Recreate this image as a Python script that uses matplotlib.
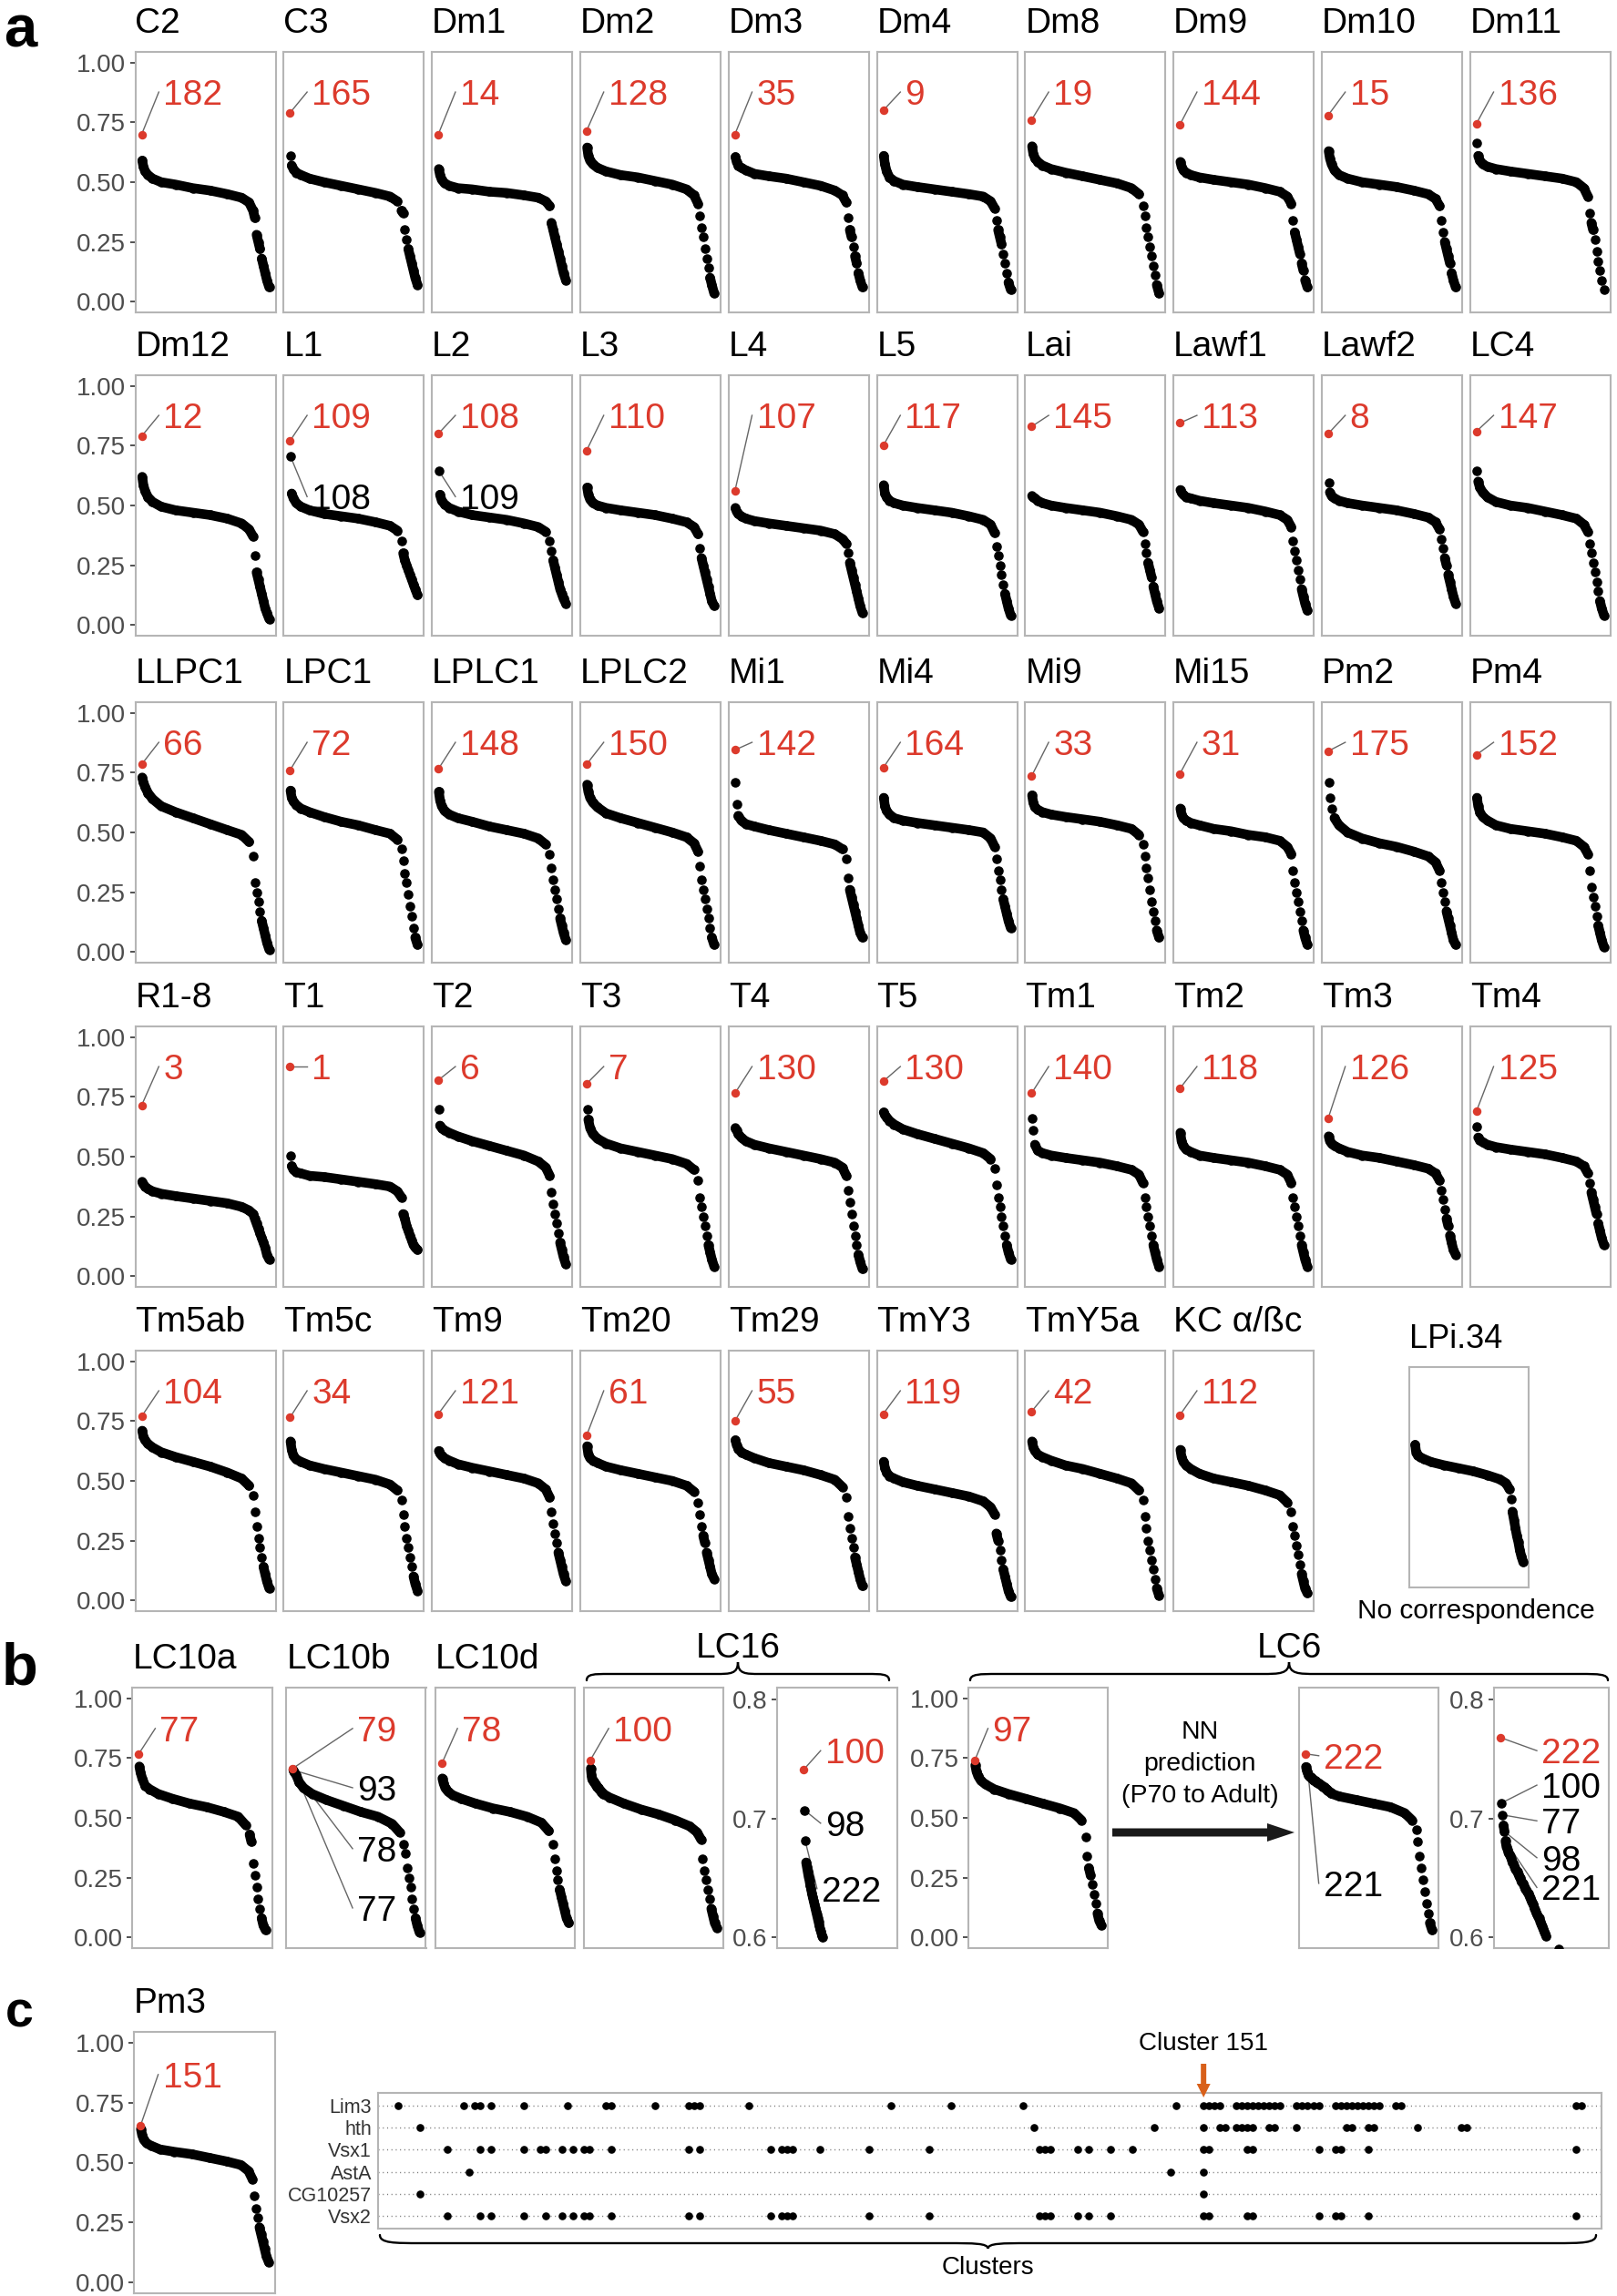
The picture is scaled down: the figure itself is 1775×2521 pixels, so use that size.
import numpy as np
import matplotlib
matplotlib.use("Agg")
import matplotlib.pyplot as plt
from matplotlib.path import Path
from matplotlib.patches import PathPatch, FancyArrow
import matplotlib.transforms as mtransforms

plt.rcParams['font.family'] = ['Liberation Sans', 'DejaVu Sans']

# ============================ DATA ============================
N_CLUSTERS = 223
# ranks at which the sorted similarity values were read (red point = rank 1)
RANKS = [2, 4, 7, 12, 20, 35, 60, 90, 120, 150, 175, 188, 195,
         198, 201, 204, 207, 210, 213, 216, 219, 223]
N_TAIL = 9

# ---- panel a, row 1 ----
ROW1_NAMES = ["C2", "C3", "Dm1", "Dm2", "Dm3", "Dm4", "Dm8", "Dm9", "Dm10", "Dm11"]
ROW1_IDS = ["182", "165", "14", "128", "35", "9", "19", "144", "15", "136"]
ROW1_RED = [0.70, 0.79, 0.70, 0.715, 0.70, 0.80, 0.76, 0.74, 0.78, 0.745]
ROW1_CURVES = [
    [0.59, 0.565, 0.545, 0.53, 0.515, 0.50, 0.49, 0.475, 0.465, 0.45, 0.435, 0.415, 0.38, 0.35, 0.28, 0.25, 0.22, 0.18, 0.15, 0.12, 0.09, 0.06],
    [0.61, 0.57, 0.555, 0.54, 0.53, 0.515, 0.50, 0.485, 0.47, 0.455, 0.44, 0.42, 0.38, 0.37, 0.30, 0.26, 0.22, 0.19, 0.16, 0.13, 0.10, 0.07],
    [0.555, 0.53, 0.51, 0.495, 0.485, 0.475, 0.47, 0.46, 0.455, 0.445, 0.435, 0.42, 0.40, 0.33, 0.30, 0.27, 0.24, 0.21, 0.18, 0.15, 0.12, 0.09],
    [0.645, 0.61, 0.59, 0.575, 0.56, 0.545, 0.53, 0.52, 0.505, 0.49, 0.47, 0.445, 0.41, 0.36, 0.31, 0.27, 0.22, 0.18, 0.14, 0.10, 0.07, 0.035],
    [0.605, 0.585, 0.57, 0.56, 0.55, 0.535, 0.525, 0.515, 0.50, 0.485, 0.465, 0.445, 0.415, 0.35, 0.30, 0.27, 0.23, 0.19, 0.16, 0.12, 0.09, 0.06],
    [0.61, 0.575, 0.545, 0.52, 0.505, 0.49, 0.48, 0.47, 0.46, 0.45, 0.44, 0.42, 0.39, 0.34, 0.30, 0.27, 0.24, 0.20, 0.16, 0.12, 0.08, 0.05],
    [0.65, 0.62, 0.60, 0.585, 0.57, 0.555, 0.54, 0.525, 0.51, 0.495, 0.475, 0.45, 0.40, 0.36, 0.31, 0.27, 0.23, 0.19, 0.15, 0.11, 0.07, 0.035],
    [0.585, 0.565, 0.55, 0.54, 0.53, 0.52, 0.51, 0.50, 0.49, 0.475, 0.46, 0.44, 0.41, 0.34, 0.29, 0.26, 0.23, 0.20, 0.16, 0.13, 0.09, 0.06],
    [0.63, 0.60, 0.575, 0.55, 0.53, 0.515, 0.50, 0.49, 0.48, 0.465, 0.45, 0.43, 0.40, 0.34, 0.29, 0.25, 0.22, 0.19, 0.16, 0.12, 0.09, 0.06],
    [0.665, 0.61, 0.59, 0.575, 0.565, 0.555, 0.545, 0.535, 0.525, 0.515, 0.50, 0.475, 0.44, 0.37, 0.33, 0.30, 0.26, 0.21, 0.17, 0.13, 0.09, 0.05],
]

# ---- panel a, row 2 ----
ROW2_NAMES = ["Dm12", "L1", "L2", "L3", "L4", "L5", "Lai", "Lawf1", "Lawf2", "LC4"]
ROW2_IDS = ["12", "109", "108", "110", "107", "117", "145", "113", "8", "147"]
ROW2_RED = [0.79, 0.77, 0.80, 0.73, 0.56, 0.75, 0.83, 0.845, 0.80, 0.81]
ROW2_CURVES = [
    [0.62, 0.585, 0.56, 0.535, 0.515, 0.495, 0.48, 0.47, 0.46, 0.445, 0.425, 0.40, 0.37, 0.29, 0.22, 0.19, 0.16, 0.13, 0.10, 0.07, 0.05, 0.025],
    [0.705, 0.55, 0.53, 0.51, 0.495, 0.48, 0.465, 0.455, 0.445, 0.43, 0.415, 0.395, 0.35, 0.30, 0.27, 0.25, 0.23, 0.21, 0.19, 0.17, 0.15, 0.125],
    [0.645, 0.545, 0.52, 0.505, 0.49, 0.475, 0.46, 0.45, 0.44, 0.425, 0.41, 0.39, 0.35, 0.31, 0.27, 0.24, 0.21, 0.18, 0.15, 0.13, 0.11, 0.09],
    [0.575, 0.545, 0.525, 0.51, 0.50, 0.49, 0.48, 0.47, 0.46, 0.445, 0.43, 0.41, 0.38, 0.32, 0.28, 0.25, 0.22, 0.19, 0.16, 0.13, 0.10, 0.08],
    [0.49, 0.475, 0.465, 0.455, 0.445, 0.435, 0.425, 0.415, 0.405, 0.395, 0.38, 0.36, 0.34, 0.30, 0.26, 0.23, 0.20, 0.17, 0.14, 0.11, 0.08, 0.05],
    [0.585, 0.55, 0.535, 0.52, 0.51, 0.50, 0.49, 0.48, 0.47, 0.455, 0.44, 0.42, 0.385, 0.33, 0.29, 0.25, 0.21, 0.17, 0.13, 0.10, 0.07, 0.04],
    [0.54, 0.535, 0.53, 0.52, 0.51, 0.50, 0.49, 0.48, 0.47, 0.455, 0.44, 0.42, 0.39, 0.34, 0.30, 0.26, 0.23, 0.20, 0.16, 0.13, 0.10, 0.07],
    [0.565, 0.555, 0.545, 0.535, 0.53, 0.52, 0.51, 0.50, 0.49, 0.475, 0.46, 0.44, 0.41, 0.35, 0.31, 0.27, 0.23, 0.19, 0.15, 0.12, 0.09, 0.06],
    [0.595, 0.555, 0.54, 0.53, 0.52, 0.51, 0.50, 0.49, 0.48, 0.465, 0.45, 0.43, 0.40, 0.36, 0.32, 0.28, 0.25, 0.21, 0.18, 0.15, 0.12, 0.09],
    [0.645, 0.60, 0.575, 0.555, 0.535, 0.515, 0.50, 0.49, 0.475, 0.46, 0.445, 0.42, 0.39, 0.34, 0.30, 0.26, 0.22, 0.18, 0.14, 0.10, 0.07, 0.04],
]
# extra black labelled points (panel index in row 2, label, index in curve)
ROW2_EXTRA = [(1, "108", 0), (2, "109", 0)]

# ---- panel a, row 3 ----
ROW3_NAMES = ["LLPC1", "LPC1", "LPLC1", "LPLC2", "Mi1", "Mi4", "Mi9", "Mi15", "Pm2", "Pm4"]
ROW3_IDS = ["66", "72", "148", "150", "142", "164", "33", "31", "175", "152"]
ROW3_RED = [0.785, 0.76, 0.765, 0.785, 0.845, 0.77, 0.735, 0.745, 0.84, 0.825]
ROW3_CURVES = [
    [0.73, 0.71, 0.69, 0.665, 0.64, 0.61, 0.585, 0.56, 0.535, 0.51, 0.49, 0.46, 0.40, 0.29, 0.25, 0.21, 0.17, 0.13, 0.10, 0.07, 0.04, 0.01],
    [0.675, 0.645, 0.63, 0.615, 0.60, 0.585, 0.565, 0.545, 0.53, 0.51, 0.495, 0.47, 0.43, 0.38, 0.33, 0.29, 0.24, 0.19, 0.15, 0.10, 0.06, 0.03],
    [0.67, 0.635, 0.61, 0.59, 0.575, 0.56, 0.545, 0.525, 0.51, 0.495, 0.475, 0.45, 0.41, 0.35, 0.30, 0.26, 0.22, 0.18, 0.14, 0.11, 0.08, 0.05],
    [0.70, 0.67, 0.645, 0.625, 0.605, 0.58, 0.56, 0.54, 0.52, 0.50, 0.48, 0.455, 0.42, 0.36, 0.30, 0.26, 0.22, 0.18, 0.14, 0.10, 0.06, 0.03],
    [0.71, 0.62, 0.57, 0.55, 0.535, 0.525, 0.51, 0.495, 0.48, 0.465, 0.45, 0.43, 0.39, 0.31, 0.26, 0.23, 0.20, 0.17, 0.14, 0.11, 0.08, 0.06],
    [0.645, 0.61, 0.59, 0.575, 0.56, 0.55, 0.54, 0.53, 0.52, 0.51, 0.50, 0.475, 0.44, 0.39, 0.34, 0.30, 0.26, 0.22, 0.19, 0.16, 0.13, 0.10],
    [0.655, 0.625, 0.605, 0.595, 0.585, 0.575, 0.565, 0.555, 0.545, 0.53, 0.515, 0.49, 0.45, 0.40, 0.35, 0.31, 0.26, 0.21, 0.17, 0.13, 0.09, 0.06],
    [0.60, 0.575, 0.56, 0.55, 0.54, 0.53, 0.515, 0.505, 0.49, 0.48, 0.465, 0.44, 0.41, 0.34, 0.29, 0.25, 0.21, 0.17, 0.13, 0.09, 0.06, 0.03],
    [0.71, 0.645, 0.60, 0.56, 0.53, 0.50, 0.475, 0.455, 0.44, 0.42, 0.40, 0.375, 0.34, 0.29, 0.25, 0.21, 0.17, 0.14, 0.11, 0.08, 0.05, 0.03],
    [0.645, 0.61, 0.585, 0.565, 0.55, 0.53, 0.515, 0.505, 0.495, 0.48, 0.465, 0.44, 0.41, 0.34, 0.27, 0.23, 0.19, 0.15, 0.11, 0.08, 0.05, 0.02],
]

# ---- panel a, row 4 ----
ROW4_NAMES = ["R1-8", "T1", "T2", "T3", "T4", "T5", "Tm1", "Tm2", "Tm3", "Tm4"]
ROW4_IDS = ["3", "1", "6", "7", "130", "130", "140", "118", "126", "125"]
ROW4_RED = [0.715, 0.877, 0.82, 0.805, 0.765, 0.815, 0.765, 0.785, 0.66, 0.69]
ROW4_CURVES = [
    [0.395, 0.385, 0.375, 0.365, 0.355, 0.345, 0.335, 0.325, 0.315, 0.305, 0.29, 0.275, 0.26, 0.24, 0.22, 0.20, 0.18, 0.16, 0.14, 0.12, 0.09, 0.07],
    [0.505, 0.46, 0.445, 0.435, 0.43, 0.42, 0.415, 0.405, 0.395, 0.385, 0.375, 0.355, 0.33, 0.26, 0.24, 0.21, 0.19, 0.17, 0.15, 0.13, 0.12, 0.11],
    [0.70, 0.63, 0.62, 0.61, 0.60, 0.585, 0.565, 0.545, 0.525, 0.505, 0.48, 0.455, 0.42, 0.35, 0.30, 0.26, 0.22, 0.18, 0.14, 0.11, 0.08, 0.05],
    [0.70, 0.655, 0.62, 0.595, 0.575, 0.555, 0.535, 0.52, 0.505, 0.49, 0.47, 0.445, 0.40, 0.33, 0.29, 0.25, 0.21, 0.17, 0.13, 0.10, 0.07, 0.04],
    [0.62, 0.61, 0.595, 0.58, 0.565, 0.55, 0.535, 0.52, 0.505, 0.49, 0.475, 0.455, 0.42, 0.36, 0.31, 0.26, 0.21, 0.17, 0.13, 0.09, 0.06, 0.03],
    [0.685, 0.675, 0.665, 0.65, 0.635, 0.615, 0.595, 0.575, 0.555, 0.535, 0.515, 0.49, 0.45, 0.38, 0.33, 0.29, 0.25, 0.21, 0.17, 0.13, 0.10, 0.07],
    [0.66, 0.61, 0.55, 0.525, 0.515, 0.505, 0.495, 0.485, 0.475, 0.46, 0.445, 0.425, 0.39, 0.33, 0.29, 0.25, 0.21, 0.17, 0.13, 0.10, 0.07, 0.04],
    [0.60, 0.565, 0.545, 0.53, 0.52, 0.505, 0.495, 0.485, 0.475, 0.46, 0.445, 0.425, 0.39, 0.33, 0.29, 0.25, 0.21, 0.17, 0.13, 0.10, 0.07, 0.04],
    [0.585, 0.565, 0.555, 0.545, 0.535, 0.52, 0.505, 0.495, 0.48, 0.465, 0.45, 0.43, 0.40, 0.36, 0.32, 0.28, 0.24, 0.21, 0.17, 0.14, 0.11, 0.09],
    [0.625, 0.58, 0.57, 0.56, 0.55, 0.54, 0.53, 0.52, 0.51, 0.495, 0.48, 0.46, 0.43, 0.39, 0.35, 0.32, 0.29, 0.26, 0.22, 0.19, 0.16, 0.13],
]

# ---- panel a, row 5 ----
ROW5_NAMES = ["Tm5ab", "Tm5c", "Tm9", "Tm20", "Tm29", "TmY3", "TmY5a", "KC α/ßc"]
ROW5_IDS = ["104", "34", "121", "61", "55", "119", "42", "112"]
ROW5_RED = [0.77, 0.765, 0.78, 0.69, 0.75, 0.78, 0.79, 0.775]
ROW5_CURVES = [
    [0.71, 0.685, 0.67, 0.655, 0.64, 0.62, 0.60, 0.58, 0.56, 0.535, 0.51, 0.48, 0.44, 0.37, 0.31, 0.26, 0.22, 0.18, 0.14, 0.11, 0.08, 0.05],
    [0.665, 0.63, 0.605, 0.59, 0.58, 0.565, 0.55, 0.535, 0.52, 0.505, 0.485, 0.46, 0.42, 0.36, 0.31, 0.26, 0.22, 0.18, 0.14, 0.10, 0.07, 0.04],
    [0.625, 0.615, 0.605, 0.595, 0.585, 0.57, 0.555, 0.54, 0.525, 0.51, 0.49, 0.465, 0.43, 0.37, 0.32, 0.28, 0.24, 0.20, 0.17, 0.14, 0.11, 0.08],
    [0.645, 0.61, 0.595, 0.585, 0.575, 0.56, 0.545, 0.53, 0.515, 0.50, 0.48, 0.455, 0.41, 0.36, 0.31, 0.27, 0.24, 0.20, 0.17, 0.14, 0.11, 0.09],
    [0.67, 0.65, 0.635, 0.62, 0.61, 0.595, 0.575, 0.56, 0.545, 0.525, 0.505, 0.475, 0.43, 0.35, 0.30, 0.26, 0.22, 0.18, 0.15, 0.12, 0.09, 0.06],
    [0.58, 0.555, 0.535, 0.52, 0.51, 0.495, 0.48, 0.465, 0.45, 0.435, 0.415, 0.39, 0.36, 0.28, 0.25, 0.21, 0.17, 0.13, 0.10, 0.07, 0.04, 0.015],
    [0.665, 0.64, 0.625, 0.61, 0.60, 0.585, 0.565, 0.55, 0.53, 0.51, 0.49, 0.46, 0.42, 0.35, 0.30, 0.25, 0.21, 0.17, 0.13, 0.09, 0.05, 0.02],
    [0.63, 0.60, 0.58, 0.565, 0.55, 0.53, 0.51, 0.495, 0.48, 0.46, 0.44, 0.41, 0.37, 0.31, 0.27, 0.23, 0.19, 0.15, 0.11, 0.08, 0.05, 0.03],
]
LPI_NAME = "LPi.34"
LPI_CURVE = [0.66, 0.62, 0.61, 0.60, 0.59, 0.575, 0.56, 0.545, 0.53, 0.51, 0.49, 0.47, 0.44, 0.39, 0.33, 0.29, 0.25, 0.21, 0.18, 0.14, 0.11, 0.08]

# ---- panel b ----
LC10A_RED = 0.768
LC10A_CURVE = [0.715, 0.69, 0.665, 0.635, 0.62, 0.60, 0.58, 0.56, 0.545, 0.525, 0.505, 0.47, 0.43, 0.40, 0.31, 0.26, 0.21, 0.16, 0.12, 0.08, 0.05, 0.03]
LC10B_RED = 0.707
LC10B_CURVE = [0.70, 0.69, 0.68, 0.65, 0.625, 0.60, 0.575, 0.55, 0.525, 0.505, 0.475, 0.44, 0.39, 0.35, 0.29, 0.25, 0.21, 0.16, 0.12, 0.08, 0.05, 0.02]
LC10D_RED = 0.727
LC10D_CURVE = [0.665, 0.645, 0.625, 0.61, 0.595, 0.58, 0.56, 0.54, 0.525, 0.505, 0.48, 0.445, 0.39, 0.33, 0.28, 0.24, 0.20, 0.17, 0.14, 0.11, 0.08, 0.06]

LC16_RED = 0.741
LC16_HEAD = [0.707, 0.681, 0.663, 0.659, 0.655, 0.651, 0.648, 0.644, 0.641, 0.637, 0.634, 0.631,
             0.628, 0.625, 0.622, 0.619, 0.616, 0.613, 0.610, 0.607, 0.605, 0.602, 0.600]
LC16_REST = [0.585, 0.56, 0.535, 0.515, 0.49, 0.465, 0.44, 0.41,
             0.33, 0.28, 0.24, 0.20, 0.16, 0.12, 0.09, 0.06, 0.04]
LC16_RANKS = list(range(2, 2 + len(LC16_HEAD))) + [r for r in RANKS if r > 1 + len(LC16_HEAD)]
LC16_CURVE = LC16_HEAD + LC16_REST

LC6_P70_RED = 0.74
LC6_P70_CURVE = [0.72, 0.695, 0.675, 0.655, 0.64, 0.62, 0.60, 0.58, 0.56, 0.54, 0.52, 0.49, 0.42, 0.34, 0.29, 0.26, 0.22, 0.18, 0.14, 0.10, 0.07, 0.05]

LC6_ADULT_RED = 0.768
LC6_ADULT_HEAD = [0.713, 0.703, 0.694, 0.689, 0.681,
                  0.676, 0.674, 0.671, 0.670, 0.668, 0.666, 0.663, 0.662, 0.660, 0.658, 0.656, 0.655,
                  0.653, 0.651, 0.650, 0.647, 0.646, 0.645, 0.643, 0.641, 0.640, 0.638, 0.637, 0.635,
                  0.633, 0.631, 0.629, 0.628, 0.625, 0.623, 0.621, 0.619, 0.617, 0.616, 0.613, 0.611,
                  0.609, 0.607, 0.605, 0.603, 0.601]
LC6_ADULT_REST = [0.59, 0.575, 0.56, 0.545, 0.52, 0.49, 0.45,
                  0.40, 0.34, 0.29, 0.24, 0.19, 0.14, 0.10, 0.06, 0.03]
LC6_ADULT_RANKS = list(range(2, 2 + len(LC6_ADULT_HEAD))) + [r for r in RANKS if r > 1 + len(LC6_ADULT_HEAD)]
LC6_ADULT_CURVE = LC6_ADULT_HEAD + LC6_ADULT_REST

# ---- panel c ----
PM3_RED = 0.652
PM3_CURVE = [0.64, 0.615, 0.595, 0.58, 0.57, 0.555, 0.545, 0.535, 0.52, 0.505, 0.49, 0.465, 0.43, 0.36, 0.31, 0.27, 0.23, 0.20, 0.17, 0.14, 0.11, 0.085]

GENES = ["Lim3", "hth", "Vsx1", "AstA", "CG10257", "Vsx2"]
LIM3_CLUSTERS = [4, 16, 18, 19, 21, 27, 35, 42, 43, 51, 57, 58, 59, 68, 94, 105, 118, 146,
                 151, 152, 153, 154, 157, 158, 159, 160, 161, 162, 163, 164, 165,
                 168, 169, 170, 171, 172, 175, 176, 177, 178, 179, 180, 181, 182, 183,
                 186, 187, 219, 220]
HTH_CLUSTERS = [8, 120, 142, 151, 154, 155, 157, 158, 159, 160, 163, 164, 168, 177, 178,
                181, 182, 190, 198, 199]
VSX1_CLUSTERS = [13, 19, 21, 27, 30, 31, 34, 36, 38, 39, 43, 57, 59, 72, 74, 75, 76, 81, 90,
                 101, 121, 122, 123, 128, 130, 134, 138, 151, 152, 159, 160, 172, 175, 176,
                 181, 219]
ASTA_CLUSTERS = [17, 145, 151]
CG10257_CLUSTERS = [8, 151]
VSX2_CLUSTERS = [13, 19, 21, 27, 31, 34, 36, 38, 39, 43, 57, 59, 72, 74, 75, 76, 90, 101,
                 121, 122, 123, 128, 130, 134, 151, 152, 159, 160, 172, 175, 176, 181, 219]
HIGHLIGHT_CLUSTER = 151

# ============================ STYLE / LAYOUT ============================
W, H = 1775, 2521
RED = '#DC3A2C'
FRAME = '#B5B5B5'
SEG = '#666666'
TICKCOL = '#4D4D4D'
TITLE_FS = 28
LABEL_FS = 28
TICK_FS = 20
MS = 7.6
LW_CURVE = 7.6
JOIN_PX = 9.5

XLIM_MAIN = (1 - 0.05 * (N_CLUSTERS - 1), N_CLUSTERS + 0.05 * (N_CLUSTERS - 1))
YLIM_MAIN = (-0.045, 1.045)

fig = plt.figure(figsize=(W / 100, H / 100), dpi=100)
ov = fig.add_axes([0, 0, 1, 1], zorder=20)
ov.set_xlim(0, W)
ov.set_ylim(H, 0)
ov.axis('off')


def add_px_axes(x0, y0, x1, y1):
    return fig.add_axes([x0 / W, 1 - y1 / H, (x1 - x0) / W, (y1 - y0) / H])


def style_frame(ax):
    for s in ax.spines.values():
        s.set_color(FRAME)
        s.set_linewidth(1.5)
    ax.set_xticks([])
    ax.patch.set_facecolor('white')


def draw_curve(ax, ranks, values):
    r = np.asarray(ranks, float)
    v = np.asarray(values, float)
    n = len(v)
    disp = ax.transData.transform(np.column_stack([r, v]))
    start = 0
    for i in range(1, n + 1):
        if i == n or abs(disp[i, 1] - disp[i - 1, 1]) > JOIN_PX:
            if i - start > 1:
                ax.plot(r[start:i], v[start:i], '-', color='black', lw=LW_CURVE,
                        solid_capstyle='round', solid_joinstyle='round', zorder=2)
            start = i
    ax.plot(r, v, 'o', color='black', ms=MS, mew=0, zorder=3)


def add_label(ax, text, px, py, x_frac, y_text, color, size=LABEL_FS):
    trans = mtransforms.blended_transform_factory(ax.transAxes, ax.transData)
    off = mtransforms.offset_copy(trans, fig=fig, x=0, y=-0.358 * size, units='points')
    ax.text(x_frac, y_text, text, transform=off, ha='left', va='baseline',
            color=color, fontsize=size, clip_on=False, zorder=6)
    dx = trans.transform((x_frac, y_text))
    ex, ey = ax.transData.inverted().transform((dx[0] - 5, dx[1]))
    ax.plot([px, ex], [py, ey], color=SEG, lw=1.0, clip_on=False, zorder=1)


def set_main_ticks(ax, show):
    if show:
        ax.set_yticks([0, 0.25, 0.5, 0.75, 1.0])
        ax.set_yticklabels(['0.00', '0.25', '0.50', '0.75', '1.00'])
        ax.tick_params(axis='y', length=4.5, width=1.2, color='#333333',
                       labelsize=TICK_FS, labelcolor=TICKCOL, pad=3)
    else:
        ax.set_yticks([])


def rank_panel(x0, y0, x1, y1, title, ranks, values, red=None, ylim=YLIM_MAIN,
               xlim=XLIM_MAIN, show_ticks=False, title_fs=TITLE_FS):
    ax = add_px_axes(x0, y0, x1, y1)
    ax.set_xlim(*xlim)
    ax.set_ylim(*ylim)
    style_frame(ax)
    set_main_ticks(ax, show_ticks)
    draw_curve(ax, ranks, values)
    if red is not None:
        ax.plot([1], [red], 'o', color=RED, ms=6.8, mew=0, zorder=5)
    if title:
        ov.text(x0, y0 - 21, title, ha='left', va='baseline', fontsize=title_fs, color='black')
    return ax


# ============================ PANEL a ============================
ROW_TOPS = [57, 412, 771, 1127, 1483]
BOX_H = 286
COL_X0 = 148.5
COL_PITCH = 162.8
BOX_W = 154
A_LABEL_X = 0.20
A_LABEL_Y = 0.877

rows = [
    (ROW1_NAMES, ROW1_IDS, ROW1_RED, ROW1_CURVES, []),
    (ROW2_NAMES, ROW2_IDS, ROW2_RED, ROW2_CURVES, ROW2_EXTRA),
    (ROW3_NAMES, ROW3_IDS, ROW3_RED, ROW3_CURVES, []),
    (ROW4_NAMES, ROW4_IDS, ROW4_RED, ROW4_CURVES, []),
    (ROW5_NAMES, ROW5_IDS, ROW5_RED, ROW5_CURVES, []),
]
for ri, (names, ids, reds, curves, extras) in enumerate(rows):
    top = ROW_TOPS[ri]
    for ci, name in enumerate(names):
        x0 = COL_X0 + ci * COL_PITCH
        ax = rank_panel(x0, top, x0 + BOX_W, top + BOX_H, name, RANKS, curves[ci],
                        red=reds[ci], show_ticks=(ci == 0))
        add_label(ax, ids[ci], 1, reds[ci], A_LABEL_X, A_LABEL_Y, RED)
        for (pi, lab, idx) in extras:
            if pi == ci:
                add_label(ax, lab, RANKS[idx], curves[ci][idx], A_LABEL_X, 0.537, 'black')

# LPi.34 (no correspondence)
ax = rank_panel(1547, 1501, 1678, 1743, LPI_NAME, RANKS, LPI_CURVE, red=None, title_fs=26)
ov.text(1620, 1777, 'No correspondence', ha='center', va='baseline', fontsize=21.5)

# ============================ PANEL b ============================
BT, BB = 1853, 2139
ax = rank_panel(145.4, BT, 298.5, BB, 'LC10a', RANKS, LC10A_CURVE, red=LC10A_RED, show_ticks=True)
add_label(ax, '77', 1, LC10A_RED, 0.196, 0.874, RED)

ax = rank_panel(314.4, BT, 467.5, BB, 'LC10b', RANKS, LC10B_CURVE, red=LC10B_RED)
add_label(ax, '79', 1, LC10B_RED, 0.507, 0.874, RED)
for lab, idx, yt in [('93', 0, 0.626), ('78', 1, 0.371), ('77', 2, 0.123)]:
    add_label(ax, lab, RANKS[idx], LC10B_CURVE[idx], 0.507, yt, 'black')

ax = rank_panel(478, BT, 631.4, BB, 'LC10d', RANKS, LC10D_CURVE, red=LC10D_RED)
add_label(ax, '78', 1, LC10D_RED, 0.19, 0.874, RED)

ax = rank_panel(641, BT, 794, BB, None, LC16_RANKS, LC16_CURVE, red=LC16_RED)
add_label(ax, '100', 1, LC16_RED, 0.21, 0.874, RED)

ZYLIM = (0.591, 0.810)


def zoom_ticks(ax):
    ax.set_yticks([0.6, 0.7, 0.8])
    ax.set_yticklabels(['0.6', '0.7', '0.8'])
    ax.tick_params(axis='y', length=4.5, width=1.2, color='#333333',
                   labelsize=TICK_FS, labelcolor=TICKCOL, pad=3)


ax = rank_panel(853, BT, 985, BB, None, LC16_RANKS, LC16_CURVE, red=LC16_RED,
                ylim=ZYLIM, xlim=(-31, 114))
zoom_ticks(ax)
add_label(ax, '100', 1, LC16_RED, 0.40, 0.757, RED)
add_label(ax, '98', LC16_RANKS[0], LC16_CURVE[0], 0.40, 0.696, 'black')
add_label(ax, '222', LC16_RANKS[1], LC16_CURVE[1], 0.37, 0.641, 'black')

ax = rank_panel(1063, BT, 1216, BB, None, RANKS, LC6_P70_CURVE, red=LC6_P70_RED, show_ticks=True)
add_label(ax, '97', 1, LC6_P70_RED, 0.173, 0.874, RED)

ax = rank_panel(1426, BT, 1579, BB, None, LC6_ADULT_RANKS, LC6_ADULT_CURVE, red=LC6_ADULT_RED)
add_label(ax, '222', 1, LC6_ADULT_RED, 0.174, 0.76, RED)
add_label(ax, '221', LC6_ADULT_RANKS[4], LC6_ADULT_CURVE[4], 0.174, 0.226, 'black')

ax = rank_panel(1639.5, BT, 1766, BB, None, LC6_ADULT_RANKS, LC6_ADULT_CURVE, red=LC6_ADULT_RED,
                ylim=ZYLIM, xlim=(-6, 110))
zoom_ticks(ax)
add_label(ax, '222', 1, LC6_ADULT_RED, 0.415, 0.757, RED)
for lab, idx, yt in [('100', 0, 0.728), ('77', 1, 0.698), ('98', 3, 0.667), ('221', 4, 0.642)]:
    add_label(ax, lab, LC6_ADULT_RANKS[idx], LC6_ADULT_CURVE[idx], 0.415, yt, 'black')


def brace(x0, x1, y_flat, y_end, y_tip, r):
    xm = 0.5 * (x0 + x1)
    verts = [(x0, y_end),
             (x0, y_flat), (x0 + 0.35 * r, y_flat), (x0 + r, y_flat),
             (xm - r, y_flat),
             (xm - 0.35 * r, y_flat), (xm, y_flat), (xm, y_tip),
             (xm, y_flat), (xm + 0.35 * r, y_flat), (xm + r, y_flat),
             (x1 - r, y_flat),
             (x1 - 0.35 * r, y_flat), (x1, y_flat), (x1, y_end)]
    codes = [Path.MOVETO,
             Path.CURVE4, Path.CURVE4, Path.CURVE4,
             Path.LINETO,
             Path.CURVE4, Path.CURVE4, Path.CURVE4,
             Path.CURVE4, Path.CURVE4, Path.CURVE4,
             Path.LINETO,
             Path.CURVE4, Path.CURVE4, Path.CURVE4]
    ov.add_patch(PathPatch(Path(verts, codes), fill=False, lw=1.7, color='black',
                           capstyle='round'))
    return xm


xm = brace(644, 976, 1838, 1845, 1825, 24)
ov.text(xm, 1820, 'LC16', ha='center', va='baseline', fontsize=TITLE_FS)
xm = brace(1065, 1765, 1838, 1845, 1825, 30)
ov.text(xm, 1820, 'LC6', ha='center', va='baseline', fontsize=TITLE_FS)

# arrow and NN text
ov.add_patch(FancyArrow(1221, 2012, 200, 0, width=9, head_width=20, head_length=30,
                        length_includes_head=True, color='#1A1A1A', lw=0))
for txt, yb in [('NN', 1909), ('prediction', 1944), ('(P70 to Adult)', 1979)]:
    ov.text(1317, yb, txt, ha='center', va='baseline', fontsize=20.5)

# ============================ PANEL c ============================
ax = rank_panel(147, 2231, 302, 2518, 'Pm3', RANKS, PM3_CURVE, red=PM3_RED, show_ticks=True)
add_label(ax, '151', 1, PM3_RED, 0.204, 0.867, RED)

axc = add_px_axes(415, 2298, 1758, 2447)
axc.set_xlim(0.4, N_CLUSTERS + 0.6)
axc.set_ylim(0.4, len(GENES) + 0.6)
style_frame(axc)
gene_clusters = [LIM3_CLUSTERS, HTH_CLUSTERS, VSX1_CLUSTERS, ASTA_CLUSTERS,
                 CG10257_CLUSTERS, VSX2_CLUSTERS]
for i, cl in enumerate(gene_clusters):
    y = len(GENES) - i
    axc.plot([0.4, N_CLUSTERS + 0.6], [y, y], color='#7A7A7A', lw=1.0,
             ls=(0, (0.8, 2.6)), zorder=1)
    axc.plot(cl, [y] * len(cl), 'o', color='black', ms=6.2, mew=0, zorder=3)
axc.set_yticks(list(range(len(GENES), 0, -1)))
axc.set_yticklabels(GENES)
axc.tick_params(axis='y', length=0, pad=5, labelsize=15.5, labelcolor='#333333')

# cluster 151 arrow
hx_px = axc.transData.transform((HIGHLIGHT_CLUSTER, 1))[0]
ov.add_patch(FancyArrow(hx_px, 2266, 0, 37, width=6, head_width=15, head_length=15,
                        length_includes_head=True, color='#D8601A', lw=0))
ov.text(hx_px, 2251, 'Cluster %d' % HIGHLIGHT_CLUSTER, ha='center', va='baseline', fontsize=20)

xm = brace(417, 1752, 2463, 2454, 2469, 45)
ov.text(xm, 2497, 'Clusters', ha='center', va='baseline', fontsize=20)

# panel letters
ov.text(4, 52, 'a', fontsize=47, fontweight='bold', va='baseline', ha='left')
ov.text(2, 1850, 'b', fontsize=47, fontweight='bold', va='baseline', ha='left')
ov.text(6, 2226, 'c', fontsize=40, fontweight='bold', va='baseline', ha='left')

fig.savefig('out.png', dpi=100, facecolor='white')
